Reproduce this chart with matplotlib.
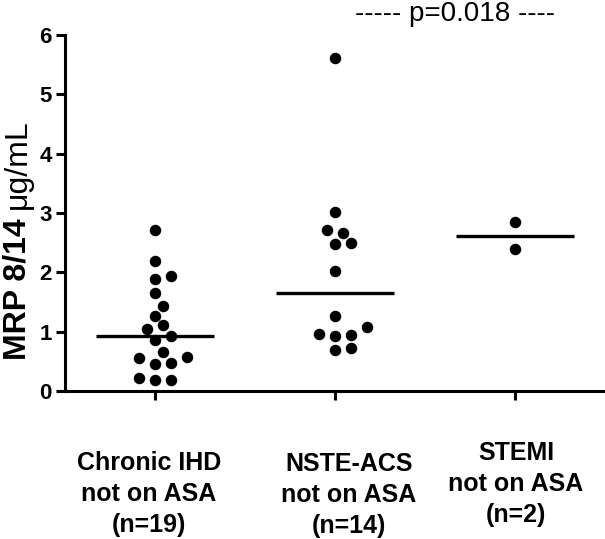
import numpy as np
import matplotlib
matplotlib.use("Agg")
import matplotlib.pyplot as plt
from matplotlib.transforms import offset_copy

plt.rcParams['font.family'] = ['Liberation Sans', 'DejaVu Sans']

# ---- data ----
categories = ["Chronic IHD\nnot on ASA\n(n=19)",
              "NSTE-ACS\nnot on ASA\n(n=14)",
              "STEMI\nnot on ASA\n(n=2)"]
chronic_ihd = [2.72, 2.19, 1.89, 1.94, 1.66, 1.43, 1.27, 1.05, 1.11, 0.86,
               0.92, 0.65, 0.56, 0.48, 0.45, 0.57, 0.22, 0.19, 0.19]
nste_acs = [5.61, 3.01, 2.71, 2.67, 2.50, 2.48, 2.03, 1.26, 1.08, 0.96,
            0.92, 0.94, 0.69, 0.72]
stemi = [2.84, 2.40]
groups = [chronic_ihd, nste_acs, stemi]
yticks = [0, 1, 2, 3, 4, 5, 6]
p_text = "----- p=0.018 ----"
ylabel_main = "MRP 8/14 "
ylabel_unit = "\u03bcg/mL"

# ---- figure ----
W, H = 605, 539
fig = plt.figure(figsize=(W / 100, H / 100), dpi=100)
ax = fig.add_axes([65 / W, 1 - 391 / H, (W - 65) / W, (391 - 35) / H])
ax.set_xlim(-0.5, 2.5)
ax.set_ylim(0, 6)

for s in ['top', 'right']:
    ax.spines[s].set_visible(False)
for s in ['left', 'bottom']:
    ax.spines[s].set_linewidth(2.2)
ax.tick_params(axis='both', width=2.2, length=6.5, direction='out')
ax.tick_params(axis='y', pad=3)
ax.set_yticks(yticks)
ax.set_yticklabels([str(t) for t in yticks], fontsize=16, fontweight='bold')
ax.set_xticks(range(len(groups)))
ax.set_xticklabels([])

fig.canvas.draw()
renderer = fig.canvas.get_renderer()
# pixels per data unit
p0 = ax.transData.transform((0, 0))
p1 = ax.transData.transform((1, 1))
ppx, ppy = p1[0] - p0[0], p1[1] - p0[1]

dot_px = 11.5
step_px = 8.0


def swarm(vals):
    vals = np.asarray(vals, float)
    order = np.argsort(vals, kind='stable')
    placed = []
    offs = np.zeros(len(vals))
    cands = [0]
    for m in range(1, 30):
        cands += [m, -m]
    for i in order:
        y = vals[i] * ppy
        for c in cands:
            x = c * step_px
            if all((x - px) ** 2 + (y - py) ** 2 >= (dot_px + 0.5) ** 2 for py, px in placed):
                break
        placed.append((y, x))
        offs[i] = x / ppx
    return offs


half = 0.33
for i, g in enumerate(groups):
    offs = swarm(g)
    ax.scatter(i + offs, g, s=(dot_px * 0.72) ** 2, color='black',
               linewidths=0, zorder=3, clip_on=False)
    med = np.median(g)
    ax.plot([i - half, i + half], [med, med], color='black', lw=2.4,
            solid_capstyle='butt', zorder=2)

# category labels under the axis (va='baseline' anchors the last line)
lab_dx = [-6, 14, 1]
lab_dy = [-141, -142, -131]
for i, lab in enumerate(categories):
    tr = offset_copy(ax.transData, fig=fig, x=lab_dx[i], y=lab_dy[i], units='dots')
    ax.text(i, 0, lab, transform=tr, ha='center', va='baseline',
            fontsize=18, fontweight='bold', linespacing=1.36, clip_on=False)

fig.text(455 / W, 1 - 21 / H, p_text, ha='center', va='baseline', fontsize=20)

# y label: bold "MRP 8/14" followed by the unit in regular weight
x_base = 26 / W
t1 = fig.text(x_base, 1 - 360 / H, ylabel_main, rotation=90, ha='left',
              va='baseline', fontsize=23, fontweight='bold', rotation_mode='anchor')
fig.canvas.draw()
bb = t1.get_window_extent(renderer)
top_frac = bb.y1 / fig.bbox.height
fig.text(x_base, top_frac, ylabel_unit, rotation=90, ha='left', va='baseline',
         fontsize=23, rotation_mode='anchor')

fig.savefig("out.png", dpi=100)
